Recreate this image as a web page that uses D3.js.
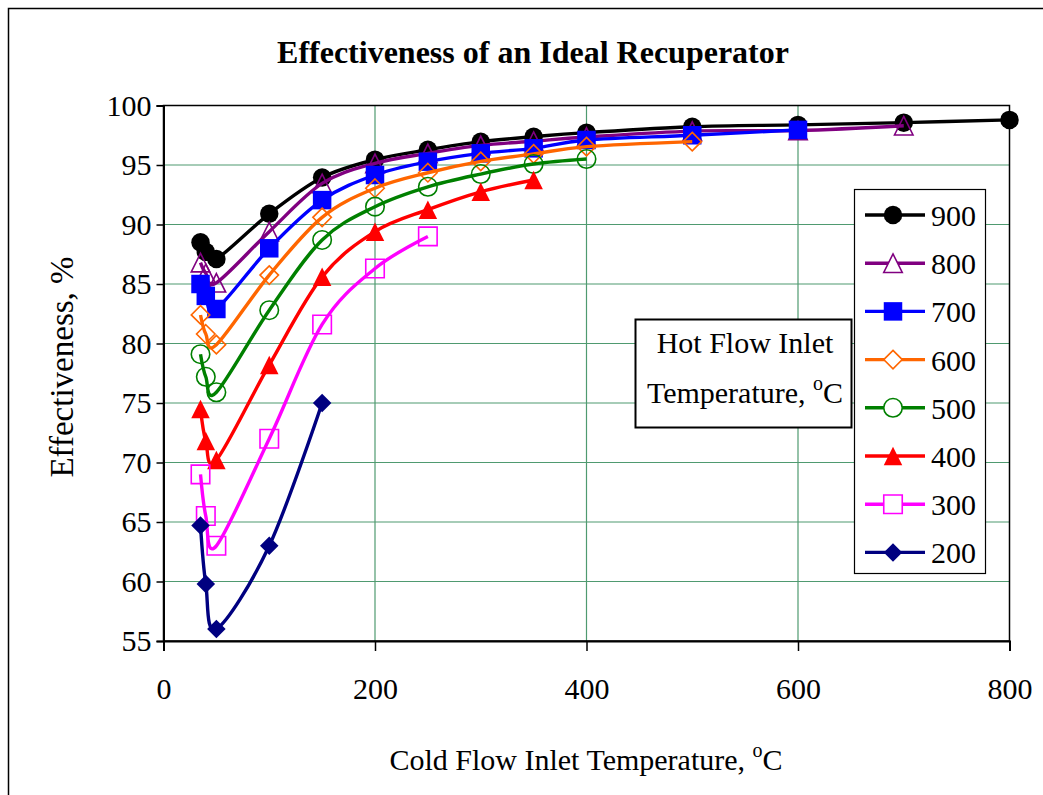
<!DOCTYPE html>
<html>
<head>
<meta charset="utf-8">
<script src="https://cdn.jsdelivr.net/npm/d3@7"></script>
<style>
  html, body { margin: 0; padding: 0; background: #fff; }
  svg { display: block; font-family: "Liberation Serif", "Times New Roman", serif; }
</style>
</head>
<body>
<svg id="chart" width="1043" height="795"></svg>
<script>
// ---- data ----
const seriesNames = ["900", "800", "700", "600", "500", "400", "300", "200"];
const x900 = [35, 40, 50, 100, 150, 200, 250, 300, 350, 400, 500, 600, 700, 800];
const e900 = [88.5, 87.7, 87.1, 90.9, 93.95, 95.45, 96.28, 96.96, 97.38, 97.72, 98.22, 98.37, 98.56, 98.79];
const x800 = [35, 40, 50, 100, 150, 200, 250, 300, 350, 400, 500, 600, 700];
const e800 = [86.8, 85.9, 85.1, 89.4, 93.45, 95.14, 95.98, 96.65, 97.0, 97.35, 97.85, 97.9, 98.3];
const x700 = [35, 40, 50, 100, 150, 200, 250, 300, 350, 400, 500, 600];
const e700 = [85.0, 84.0, 82.9, 88.0, 92.05, 94.16, 95.28, 95.98, 96.4, 97.1, 97.5, 97.95];
const x600 = [35, 40, 50, 100, 150, 200, 250, 300, 350, 400, 500];
const e600 = [82.4, 80.8, 79.9, 85.75, 90.6, 93.05, 94.35, 95.3, 95.93, 96.54, 96.96];
const x500 = [35, 40, 50, 100, 150, 200, 250, 300, 350, 400];
const e500 = [79.1, 77.2, 75.9, 82.8, 88.7, 91.5, 93.17, 94.24, 95.08, 95.5];
const x400 = [35, 40, 50, 100, 150, 200, 250, 300, 350];
const e400 = [74.5, 71.8, 70.2, 78.2, 85.6, 89.4, 91.25, 92.75, 93.74];
const x300 = [35, 40, 50, 100, 150, 200, 250];
const e300 = [69.0, 65.5, 63.0, 72.0, 81.6, 86.3, 89.0];
const x200 = [35, 40, 50, 100, 150];
const e200 = [64.7, 59.8, 56.0, 63.0, 75.0];
const xTicks = [0, 200, 400, 600, 800];
const yTicks = [55, 60, 65, 70, 75, 80, 85, 90, 95, 100];

const xsAll = [x900, x800, x700, x600, x500, x400, x300, x200];
const esAll = [e900, e800, e700, e600, e500, e400, e300, e200];

// ---- styles ----
const colors = ["#000000", "#800080", "#0000FF", "#FF6600", "#008000", "#FF0000", "#FF00FF", "#000080"];
const shapes = ["circle", "triangle", "square", "diamond", "circle", "triangle", "square", "diamond"];
const filled = [true, false, true, false, false, true, false, true];

const svg = d3.select("#chart");
const L = 163.5, R = 1009.5, T = 105.5, B = 641;
const x = d3.scaleLinear().domain([0, 800]).range([L, R]);
const y = d3.scaleLinear().domain([55, 100]).range([B, T]);

// outer chart border
svg.append("rect").attr("x", 8.5).attr("y", 8.5).attr("width", 1100).attr("height", 900)
  .attr("fill", "none").attr("stroke", "#000").attr("stroke-width", 1.5);

// title
svg.append("text").attr("x", 533).attr("y", 63).attr("text-anchor", "middle")
  .attr("font-size", 32).attr("font-weight", "bold").text("Effectiveness of an Ideal Recuperator");

// gridlines
const grid = svg.append("g");
grid.selectAll("line.h").data(yTicks.filter(v => v > 55 && v < 100)).enter().append("line")
  .attr("x1", L).attr("x2", R).attr("y1", d => y(d)).attr("y2", d => y(d))
  .attr("stroke", "#4f9a70").attr("stroke-width", 1.2);
grid.selectAll("line.v").data(xTicks.filter(v => v > 0 && v < 800)).enter().append("line")
  .attr("y1", T).attr("y2", B).attr("x1", d => x(d)).attr("x2", d => x(d))
  .attr("stroke", "#4f9a70").attr("stroke-width", 1.2);

// plot frame
svg.append("rect").attr("x", L).attr("y", T).attr("width", R - L).attr("height", B - T)
  .attr("fill", "none").attr("stroke", "#000").attr("stroke-width", 1.5);

// axes
const xAxis = d3.axisBottom(x).tickValues(xTicks).tickSize(10).tickPadding(27).tickFormat(d3.format("d"));
const gx = svg.append("g").attr("transform", `translate(0,${B})`).call(xAxis);
gx.select(".domain").attr("stroke-width", 2);
gx.selectAll(".tick line").attr("stroke-width", 1.5);
gx.selectAll("text").attr("font-size", 30).attr("font-family", "Liberation Serif").attr("fill", "#000");

const yAxis = d3.axisLeft(y).tickValues(yTicks).tickSize(7).tickPadding(5);
const gy = svg.append("g").attr("transform", `translate(${L},0)`).call(yAxis);
gy.select(".domain").attr("stroke-width", 2);
gy.selectAll(".tick line").attr("stroke-width", 1.5);
gy.selectAll("text").attr("font-size", 30).attr("font-family", "Liberation Serif").attr("fill", "#000");

// axis titles
svg.append("text").attr("transform", "translate(73,367) rotate(-90)").attr("text-anchor", "middle")
  .attr("font-size", 33).text("Effectiveness, %");
const xt = svg.append("text").attr("x", 586).attr("y", 770).attr("text-anchor", "middle").attr("font-size", 30);
xt.append("tspan").text("Cold Flow Inlet Temperature, ");
xt.append("tspan").attr("font-size", 20).attr("dy", -13).text("o");
xt.append("tspan").attr("dy", 13).text("C");

// marker path generator
function markerPath(shape, s) {
  const h = s / 2;
  if (shape === "circle") return d3.symbol(d3.symbolCircle, Math.PI * h * h)();
  if (shape === "square") return `M${-h},${-h}H${h}V${h}H${-h}Z`;
  if (shape === "diamond") return `M0,${-h}L${h},0L0,${h}L${-h},0Z`;
  if (shape === "triangle") return `M0,${-h}L${h},${h}L${-h},${h}Z`;
}

const line = d3.line().curve(d3.curveCardinal.tension(0)).x(d => x(d[0])).y(d => y(d[1]));
const plot = svg.append("g");
seriesNames.forEach((name, i) => {
  const pts = xsAll[i].map((xv, k) => [xv, esAll[i][k]]);
  const g = plot.append("g");
  g.append("path").datum(pts).attr("d", line).attr("fill", "none")
    .attr("stroke", colors[i]).attr("stroke-width", 3.4).attr("stroke-linejoin", "round");
  g.selectAll("path.m").data(pts).enter().append("path")
    .attr("transform", d => `translate(${x(d[0])},${y(d[1])})`)
    .attr("d", markerPath(shapes[i], 18.5))
    .attr("fill", filled[i] ? colors[i] : "none")
    .attr("stroke", colors[i]).attr("stroke-width", filled[i] ? 0 : 1.6);
});

// annotation box
const ab = svg.append("g");
ab.append("rect").attr("x", 635.5).attr("y", 319.5).attr("width", 216).attr("height", 108)
  .attr("fill", "#fff").attr("stroke", "#000").attr("stroke-width", 2);
ab.append("text").attr("x", 745).attr("y", 353).attr("text-anchor", "middle").attr("font-size", 30).text("Hot Flow Inlet");
const at = ab.append("text").attr("x", 745).attr("y", 403).attr("text-anchor", "middle").attr("font-size", 30);
at.append("tspan").text("Temperature, ");
at.append("tspan").attr("font-size", 20).attr("dy", -13).text("o");
at.append("tspan").attr("dy", 13).text("C");

// legend
const lg = svg.append("g");
lg.append("rect").attr("x", 854.5).attr("y", 189.5).attr("width", 131).attr("height", 384)
  .attr("fill", "#fff").attr("stroke", "#000").attr("stroke-width", 1.2);
seriesNames.forEach((name, i) => {
  const cy = 215 + i * 48.2;
  lg.append("line").attr("x1", 865).attr("x2", 925).attr("y1", cy).attr("y2", cy)
    .attr("stroke", colors[i]).attr("stroke-width", 3.4);
  lg.append("path").attr("transform", `translate(893,${cy})`).attr("d", markerPath(shapes[i], 18.5))
    .attr("fill", filled[i] ? colors[i] : "#fff")
    .attr("stroke", colors[i]).attr("stroke-width", filled[i] ? 0 : 1.6);
  lg.append("text").attr("x", 931).attr("y", cy + 11).attr("font-size", 30).text(name);
});
</script>
</body>
</html>
